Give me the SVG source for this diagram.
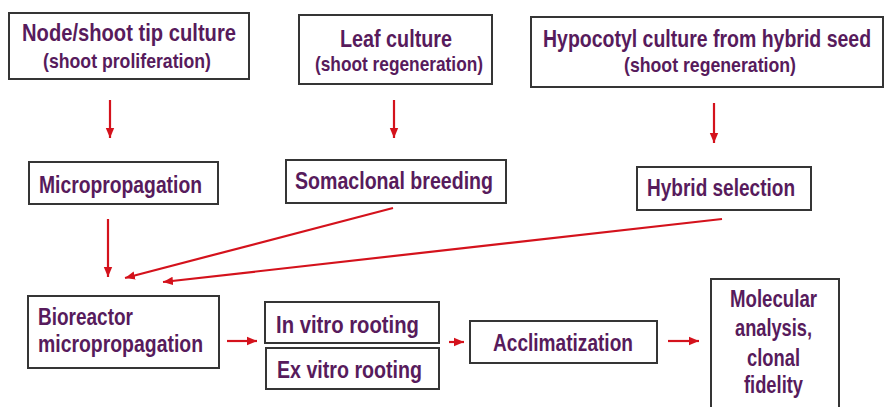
<svg xmlns="http://www.w3.org/2000/svg" width="887" height="407" viewBox="0 0 887 407">
<defs>
<marker id="ah" markerUnits="userSpaceOnUse" markerWidth="12" markerHeight="10" refX="10" refY="5" orient="auto">
<path d="M0,0.8 L10,5 L0,9.2 Z" fill="#d4121c"/>
</marker>
<style>
.box{fill:#fff;stroke:#353535;stroke-width:2}
.t{font-family:"Liberation Sans",Arial,sans-serif;font-weight:bold;font-size:24px;fill:#571b5c}
.s{font-family:"Liberation Sans",Arial,sans-serif;font-weight:bold;font-size:21px;fill:#571b5c}
.c{stroke:#d4121c;stroke-width:2.2;fill:none;marker-end:url(#ah)}
</style>
</defs>
<rect width="887" height="407" fill="#fff"/>
<g id="node-shoot">
<rect class="box" x="9" y="13" width="240" height="66"/>
<text class="t" x="22" y="41" textLength="214" lengthAdjust="spacingAndGlyphs">Node/shoot tip culture</text>
<text class="s" x="43" y="68" textLength="168" lengthAdjust="spacingAndGlyphs">(shoot proliferation)</text>
</g>
<g id="leaf">
<rect class="box" x="299" y="15" width="193" height="69"/>
<text class="t" x="340" y="47" textLength="112" lengthAdjust="spacingAndGlyphs">Leaf culture</text>
<text class="s" x="315" y="71" textLength="168" lengthAdjust="spacingAndGlyphs">(shoot regeneration)</text>
</g>
<g id="hypocotyl">
<rect class="box" x="531" y="17" width="352" height="70"/>
<text class="t" x="0" y="0" transform="translate(543 47) scale(0.812 1)">Hypocotyl culture from hybrid seed</text>
<text class="s" x="624" y="72" textLength="172" lengthAdjust="spacingAndGlyphs">(shoot regeneration)</text>
</g>
<g id="micropropagation">
<rect class="box" x="29" y="162" width="189" height="42"/>
<text class="t" x="39" y="193" textLength="163" lengthAdjust="spacingAndGlyphs">Micropropagation</text>
</g>
<g id="somaclonal">
<rect class="box" x="286" y="160" width="220" height="43"/>
<text class="t" x="295" y="189" textLength="198" lengthAdjust="spacingAndGlyphs">Somaclonal  breeding</text>
</g>
<g id="hybrid">
<rect class="box" x="637" y="167" width="174" height="43"/>
<text class="t" x="647" y="196" textLength="148" lengthAdjust="spacingAndGlyphs">Hybrid selection</text>
</g>
<g id="bioreactor">
<rect class="box" x="28" y="296" width="191" height="72"/>
<text class="t" x="38" y="325" textLength="95" lengthAdjust="spacingAndGlyphs">Bioreactor</text>
<text class="t" x="38" y="352" textLength="165" lengthAdjust="spacingAndGlyphs">micropropagation</text>
</g>
<g id="in-vitro">
<rect class="box" x="265" y="302" width="174" height="41"/>
<text class="t" x="276" y="333" textLength="143" lengthAdjust="spacingAndGlyphs">In vitro rooting</text>
</g>
<g id="ex-vitro">
<rect class="box" x="266" y="348" width="173" height="41"/>
<text class="t" x="277" y="378" textLength="145" lengthAdjust="spacingAndGlyphs">Ex vitro rooting</text>
</g>
<g id="acclimatization">
<rect class="box" x="470" y="321" width="187" height="42"/>
<text class="t" x="493" y="351" textLength="140" lengthAdjust="spacingAndGlyphs">Acclimatization</text>
</g>
<g id="molecular">
<rect class="box" x="711" y="279" width="128" height="140"/>
<text class="t" x="730" y="307" textLength="87" lengthAdjust="spacingAndGlyphs">Molecular</text>
<text class="t" x="735" y="336" textLength="77" lengthAdjust="spacingAndGlyphs">analysis,</text>
<text class="t" x="747" y="366" textLength="53" lengthAdjust="spacingAndGlyphs">clonal</text>
<text class="t" x="744" y="393" textLength="59" lengthAdjust="spacingAndGlyphs">fidelity</text>
</g>
<g id="connectors">
<line class="c" x1="110" y1="100" x2="110" y2="138"/>
<line class="c" x1="394" y1="100" x2="394" y2="138"/>
<line class="c" x1="714" y1="103" x2="714" y2="143"/>
<line class="c" x1="108" y1="219" x2="108" y2="277"/>
<line class="c" x1="393" y1="208" x2="125" y2="278"/>
<line class="c" x1="722" y1="219" x2="163" y2="282"/>
<line class="c" x1="227" y1="341" x2="257" y2="341"/>
<line class="c" x1="449" y1="342" x2="464" y2="342"/>
<line class="c" x1="668" y1="341" x2="699" y2="341"/>
</g>
</svg>
